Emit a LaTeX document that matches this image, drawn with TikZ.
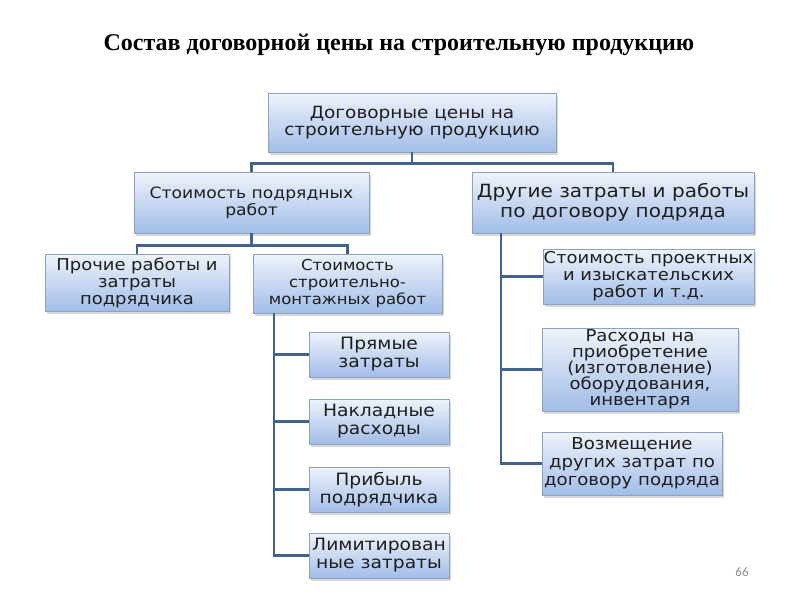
\documentclass[tikz,border=0pt]{standalone}
\usepackage{fontspec}
\setmainfont{Liberation Serif}
\newfontfamily\boxfont{DejaVu Sans}[FakeStretch=1.1]
\newfontfamily\numfont{Carlito}
\usetikzlibrary{shadows,calc}
\definecolor{boxtop}{HTML}{EEF3FB}
\definecolor{boxbot}{HTML}{A2BDE8}
\definecolor{boxline}{HTML}{8EA2BF}
\definecolor{conncol}{HTML}{3F628F}
\definecolor{txtcol}{HTML}{1E1E1E}
\tikzset{
  box/.style={rectangle, draw=boxline, line width=0.8pt, top color=boxtop, bottom color=boxbot,
    align=center, inner sep=0pt, text=txtcol,
    font=\boxfont\fontsize{16.3}{17}\selectfont,
    drop shadow={shadow xshift=2pt, shadow yshift=-3pt, opacity=0.3}},
  small/.style={box, minimum width=140, minimum height=45, font=\boxfont\fontsize{17}{18}\selectfont},
  conn/.style={draw=conncol, line width=2.2pt},
}
\begin{document}
\begin{tikzpicture}[x=1pt,y=-1pt]
\useasboundingbox (0,0) rectangle (800,600);
\fill[white] (0,0) rectangle (800,600);
\node[font=\bfseries\fontsize{24}{27}\selectfont, text=black] (title) at (399,45) {Состав договорной цены на строительную продукцию};

\node[box, minimum width=288, minimum height=59, font=\boxfont\fontsize{16.8}{16.8}\selectfont] (root) at (412,122.5) {Договорные цены на\\строительную продукцию};
\node[box, minimum width=235, minimum height=61, font=\boxfont\fontsize{15.6}{17}\selectfont] (b2) at (251.5,202.5) {Стоимость подрядных\\работ};
\node[box, minimum width=282, minimum height=61, font=\boxfont\fontsize{18.2}{20}\selectfont] (b3) at (613,202.5) {Другие затраты и работы\\по договору подряда};
\node[box, minimum width=184, minimum height=57] (b4) at (137,282.5) {Прочие работы и\\затраты\\подрядчика};
\node[box, minimum width=189, minimum height=59, font=\boxfont\fontsize{15}{17}\selectfont] (b5) at (347.5,283.5) {Стоимость\\строительно-\\монтажных работ};

\node[small] (p1) at (379,354.5) {Прямые\\затраты};
\node[small] (p2) at (379,421.5) {Накладные\\расходы};
\node[small] (p3) at (379,489.5) {Прибыль\\подрядчика};
\node[small] (p4) at (379,555.5) {Лимитирован\\ные затраты};

\node[box, minimum width=211, minimum height=55] (r1) at (648.5,276.5) {Стоимость проектных\\и изыскательских\\работ и т.д.};
\node[box, minimum width=196, minimum height=83, font=\boxfont\fontsize{16.4}{16}\selectfont] (r2) at (640,369.5) {Расходы на\\приобретение\\(изготовление)\\оборудования,\\инвентаря};
\node[box, minimum width=180, minimum height=63, font=\boxfont\fontsize{16.5}{18}\selectfont] (r3) at (632,463.5) {Возмещение\\других затрат по\\договору подряда};

\node[font=\numfont\fontsize{13}{15}\selectfont, text=black!45] (num) at (742,572) {66};

% connectors
\draw[conn] (root.south) -- ++(0,11) -| (b2.north);
\draw[conn] (root.south) -- ++(0,11) -| (b3.north);
\draw[conn] (b2.south) -- ++(0,12) -| (b4.north);
\draw[conn] (b2.south) -- ++(0,12) -| (b5.north);

\coordinate (v1) at ($(b5.south west)+(21,0)$);
\draw[conn] (v1) |- (p1.west);
\draw[conn] (v1) |- (p2.west);
\draw[conn] (v1) |- (p3.west);
\draw[conn] (v1) |- (p4.west);

\coordinate (v2) at ($(b3.south west)+(29,0)$);
\draw[conn] (v2) |- (r1.west);
\draw[conn] (v2) |- (r2.west);
\draw[conn] (v2) |- (r3.west);
\end{tikzpicture}
\end{document}
